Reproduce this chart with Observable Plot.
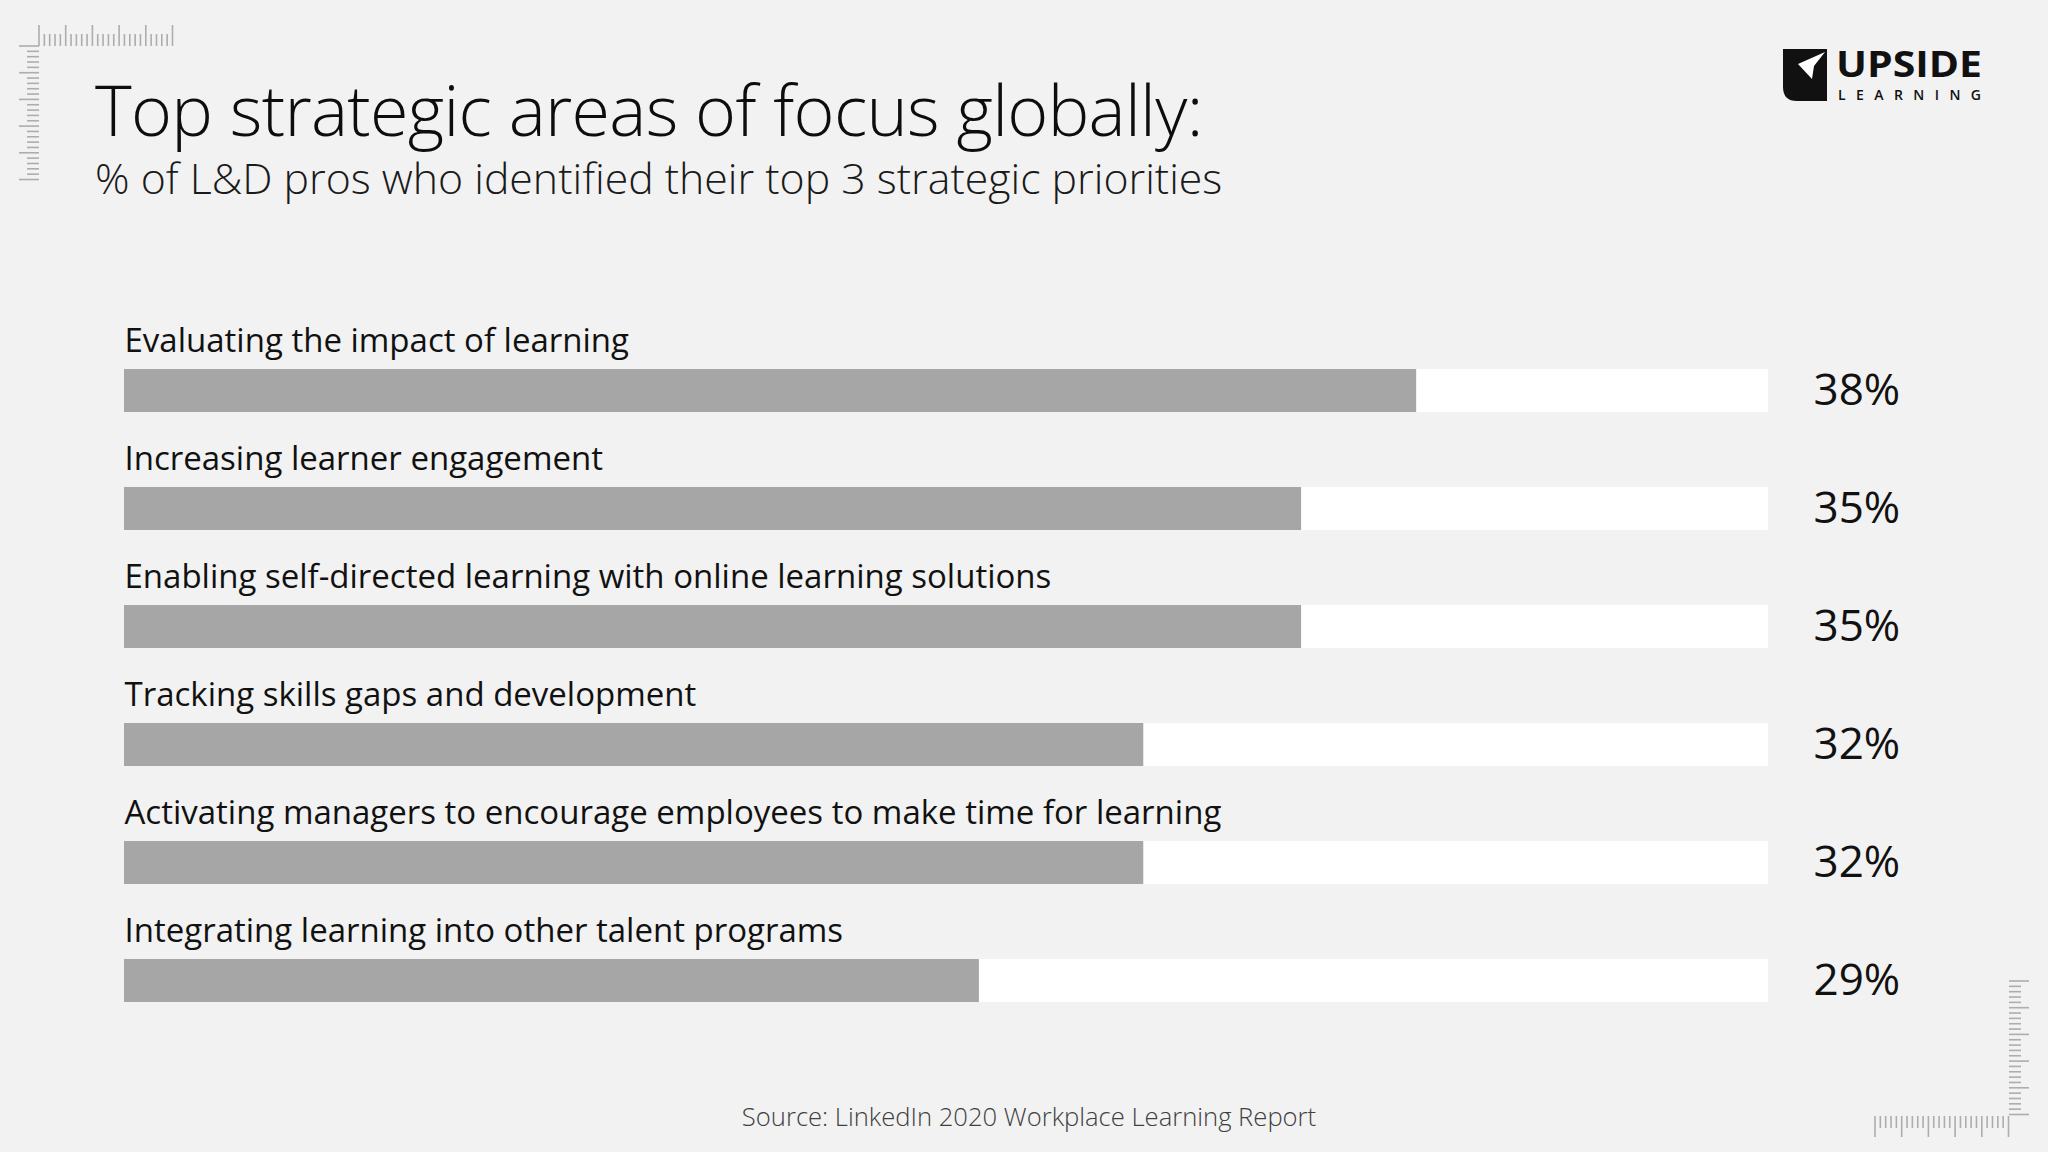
<!DOCTYPE html>
<html>
<head>
<meta charset="utf-8">
<script src="https://cdn.jsdelivr.net/npm/d3@7"></script>
<script src="https://cdn.jsdelivr.net/npm/@observablehq/plot@0.6"></script>
<style>
  html, body { margin: 0; padding: 0; background: #f2f2f2; }
  #page { position: relative; width: 2048px; height: 1152px; overflow: hidden; font-family: "Open Sans", "Noto Sans", sans-serif; color: #111; }
  #deco { position: absolute; left: 0; top: 0; pointer-events: none; }
  h1, h2, p { margin: 0; position: absolute; white-space: nowrap; }
  #title { left: 95px; top: 74px; font-size: 70px; line-height: 70px; font-weight: 350; letter-spacing: -0.7px; color: #0d0d0d; }
  #subtitle { left: 95px; top: 157px; font-size: 42.8px; line-height: 42.8px; font-weight: 300; color: #1a1a1a; }
  #chart { position: absolute; left: 0; top: 250px; }
  #source { left: 5px; width: 2048px; text-align: center; top: 1104px; font-size: 25.6px; line-height: 26px; font-weight: 300; color: #404040; }
</style>
</head>
<body>
<div id="page">
  <svg id="deco" width="2048" height="1152"></svg>
  <h1 id="title">Top strategic areas of focus globally:</h1>
  <h2 id="subtitle">% of L&amp;D pros who identified their top 3 strategic priorities</h2>
  <div id="chart"></div>
  <p id="source">Source: LinkedIn 2020 Workplace Learning Report</p>
</div>
<script>
// ---- data ----
const categories = [
  "Evaluating the impact of learning",
  "Increasing learner engagement",
  "Enabling self-directed learning with online learning solutions",
  "Tracking skills gaps and development",
  "Activating managers to encourage employees to make time for learning",
  "Integrating learning into other talent programs"
];
// values printed at the right of each bar
const shares = [38, 35, 35, 32, 32, 29];
// bar lengths as drawn in the picture, read against a 0–50% track
const barShares = [39.3, 35.8, 35.8, 31.0, 31.0, 26.0];
const trackMax = 50;

const rows = categories.map((c, i) => ({
  category: c,
  share: shares[i],
  bar: barShares[i],
  track: trackMax
}));

// ---- chart ----
const chart = Plot.plot({
  width: 2048,
  height: 850,
  marginLeft: 124,
  marginRight: 280,
  marginTop: 42.8,
  marginBottom: 22.8,
  x: { domain: [0, trackMax], axis: null },
  y: { domain: categories, axis: null, padding: 0.636 },
  style: { background: "transparent", fontFamily: "'Open Sans', 'Noto Sans', sans-serif", color: "#111" },
  marks: [
    Plot.barX(rows, { y: "category", x1: 0, x2: "track", fill: "#ffffff" }),
    Plot.barX(rows, { y: "category", x1: 0, x2: "bar", fill: "#a6a6a6" }),
    Plot.text(rows, {
      y: "category", x: 0, text: "category",
      textAnchor: "start", lineAnchor: "bottom", dy: -39.5,
      fontSize: 33, fill: "#111"
    }),
    Plot.text(rows, {
      y: "category", x: "track", text: d => d.share + "%",
      textAnchor: "start", dx: 45, fontSize: 44, fill: "#111"
    })
  ]
});
document.getElementById("chart").appendChild(chart);

// ---- decorations: corner rulers and logo ----
const deco = d3.select("#deco");
const rulerColor = "#adadad";
const step = 26.7 / 5;
function ticksH(x0, n, yBase, dir) {
  for (let i = 0; i <= n; i++) {
    const x = x0 + i * step;
    const len = i % 5 === 0 ? 21 : 12;
    deco.append("line").attr("x1", x).attr("x2", x)
      .attr("y1", yBase).attr("y2", yBase + dir * len)
      .attr("stroke", rulerColor).attr("stroke-width", 1.6);
  }
}
function ticksV(y0, n, xBase, dir) {
  for (let i = 0; i <= n; i++) {
    const y = y0 + i * step;
    const len = i % 5 === 0 ? 20 : 12;
    deco.append("line").attr("y1", y).attr("y2", y)
      .attr("x1", xBase).attr("x2", xBase + dir * len)
      .attr("stroke", rulerColor).attr("stroke-width", 1.6);
  }
}
// top-left corner
ticksH(39, 25, 46, -1);
ticksV(46, 25, 39, -1);
// bottom-right corner
ticksV(981, 25, 2009, 1);
ticksH(1875, 25, 1116, 1);

// logo
const logo = deco.append("g");
logo.append("path")
  .attr("d", "M1783,49 H1827 V101 H1797 Q1783,101 1783,87 Z")
  .attr("fill", "#111");
logo.append("path")
  .attr("d", "M1798,64 L1825,52 L1814,66 L1812,79 Z")
  .attr("fill", "#fff");
logo.append("text")
  .attr("x", 1836).attr("y", 77)
  .attr("font-family", "'Open Sans', sans-serif").attr("font-weight", 700)
  .attr("font-size", 36).attr("fill", "#111")
  .attr("textLength", 146).attr("lengthAdjust", "spacingAndGlyphs")
  .text("UPSIDE");
logo.append("text")
  .attr("x", 1838).attr("y", 100)
  .attr("font-family", "'Open Sans', sans-serif").attr("font-weight", 600)
  .attr("font-size", 14).attr("fill", "#111")
  .attr("textLength", 143).attr("lengthAdjust", "spacing")
  .text("LEARNING");
</script>
</body>
</html>
